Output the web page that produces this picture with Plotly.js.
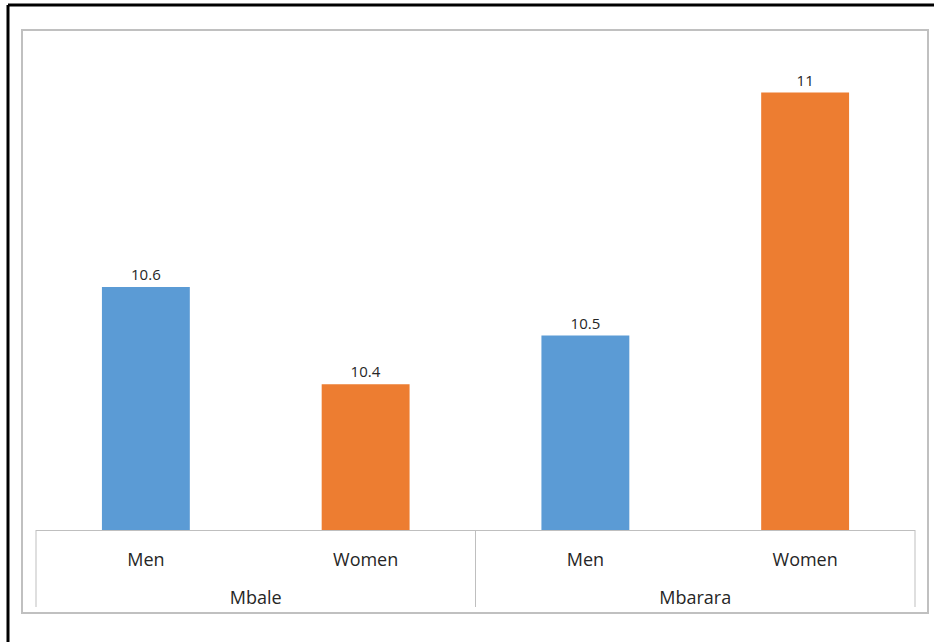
<!DOCTYPE html>
<html>
<head>
<meta charset="utf-8">
<script src="https://cdn.plot.ly/plotly-3.0.1.min.js"></script>
<style>
  html, body { margin: 0; padding: 0; background: #ffffff; }
  #chart { width: 934px; height: 642px; }
</style>
</head>
<body>
<div id="chart"></div>
<script>
const districts = ["Mbale", "Mbale", "Mbarara", "Mbarara"];
const sexes = ["Men", "Women", "Men", "Women"];
const values = [10.6, 10.4, 10.5, 11];
const valueLabels = ["10.6", "10.4", "10.5", "11"];
const barColors = ["#5b9bd5", "#ed7d31", "#5b9bd5", "#ed7d31"];

const W = 934, H = 642;
const m = { l: 36, r: 19, t: 44, b: 112 };
const pw = W - m.l - m.r, ph = H - m.t - m.b;
function px(x) { return (x - m.l) / pw; }
function py(y) { return (H - m.b - y) / ph; }

// category positions derived from the data order
const idx = sexes.map((_, i) => i);
const n = idx.length;

// group (district) centres and boundaries, derived from the districts array
const groupNames = [];
const groupStart = [];
const groupEnd = [];
districts.forEach((d, i) => {
  if (groupNames.length === 0 || groupNames[groupNames.length - 1] !== d) {
    groupNames.push(d); groupStart.push(i); groupEnd.push(i);
  } else {
    groupEnd[groupEnd.length - 1] = i;
  }
});
const groupCenters = groupStart.map((s, k) => (s + groupEnd[k]) / 2);
const boundaries = [-0.5].concat(groupEnd.map(e => e + 0.5));

const trace = {
  type: "bar",
  x: idx,
  y: values,
  text: valueLabels,
  textposition: "outside",
  constraintext: "none",
  textfont: { family: "Open Sans, sans-serif", size: 15, color: "#262626" },
  cliponaxis: false,
  width: 0.4,
  marker: { color: barColors, line: { width: 0 } },
  hoverinfo: "y"
};

const tickFont = { family: "Open Sans, sans-serif", size: 18, color: "#262626" };

const dividerShapes = boundaries.map(b => ({
  type: "line", xref: "paper", yref: "paper",
  x0: (b + 0.5) / n, x1: (b + 0.5) / n, y0: 0, y1: py(607),
  line: { color: "#bfbfbf", width: 1 }
}));

const layout = {
  width: W, height: H,
  margin: m,
  paper_bgcolor: "#ffffff",
  plot_bgcolor: "#ffffff",
  showlegend: false,
  font: { family: "Open Sans, sans-serif", size: 18, color: "#262626" },
  xaxis: {
    type: "linear",
    range: [-0.5, n - 0.5],
    tickmode: "array",
    tickvals: idx,
    ticktext: sexes,
    showline: true,
    linecolor: "#bfbfbf",
    linewidth: 1,
    ticks: "",
    showgrid: false,
    zeroline: false,
    ticklabelstandoff: 13,
    tickfont: tickFont,
    fixedrange: true
  },
  xaxis2: {
    type: "linear",
    overlaying: "x",
    matches: "x",
    side: "bottom",
    anchor: "y",
    tickmode: "array",
    tickvals: groupCenters,
    ticktext: groupNames,
    showline: false,
    ticks: "",
    showgrid: false,
    zeroline: false,
    ticklabelstandoff: 55,
    tickfont: tickFont,
    fixedrange: true
  },
  yaxis: {
    range: [10.1, 11.1],
    visible: false,
    showgrid: false,
    zeroline: false,
    fixedrange: true
  },
  shapes: [
    { type: "rect", xref: "paper", yref: "paper",
      x0: px(22), x1: px(928), y0: py(613), y1: py(30),
      line: { color: "#c0c0c0", width: 2 }, fillcolor: "rgba(0,0,0,0)", layer: "below" },
    { type: "line", xref: "paper", yref: "paper",
      x0: px(8), x1: px(8), y0: py(5), y1: py(660),
      line: { color: "#000000", width: 3 } },
    { type: "line", xref: "paper", yref: "paper",
      x0: px(8), x1: px(940), y0: py(5), y1: py(5),
      line: { color: "#000000", width: 3 } }
  ].concat(dividerShapes)
};

const groupTrace = {
  type: "scatter", mode: "none", x: groupCenters, y: [10.1, 10.1],
  xaxis: "x2", yaxis: "y", hoverinfo: "skip", showlegend: false
};

Plotly.newPlot("chart", [trace, groupTrace], layout, { displayModeBar: false, staticPlot: true });
</script>
</body>
</html>
